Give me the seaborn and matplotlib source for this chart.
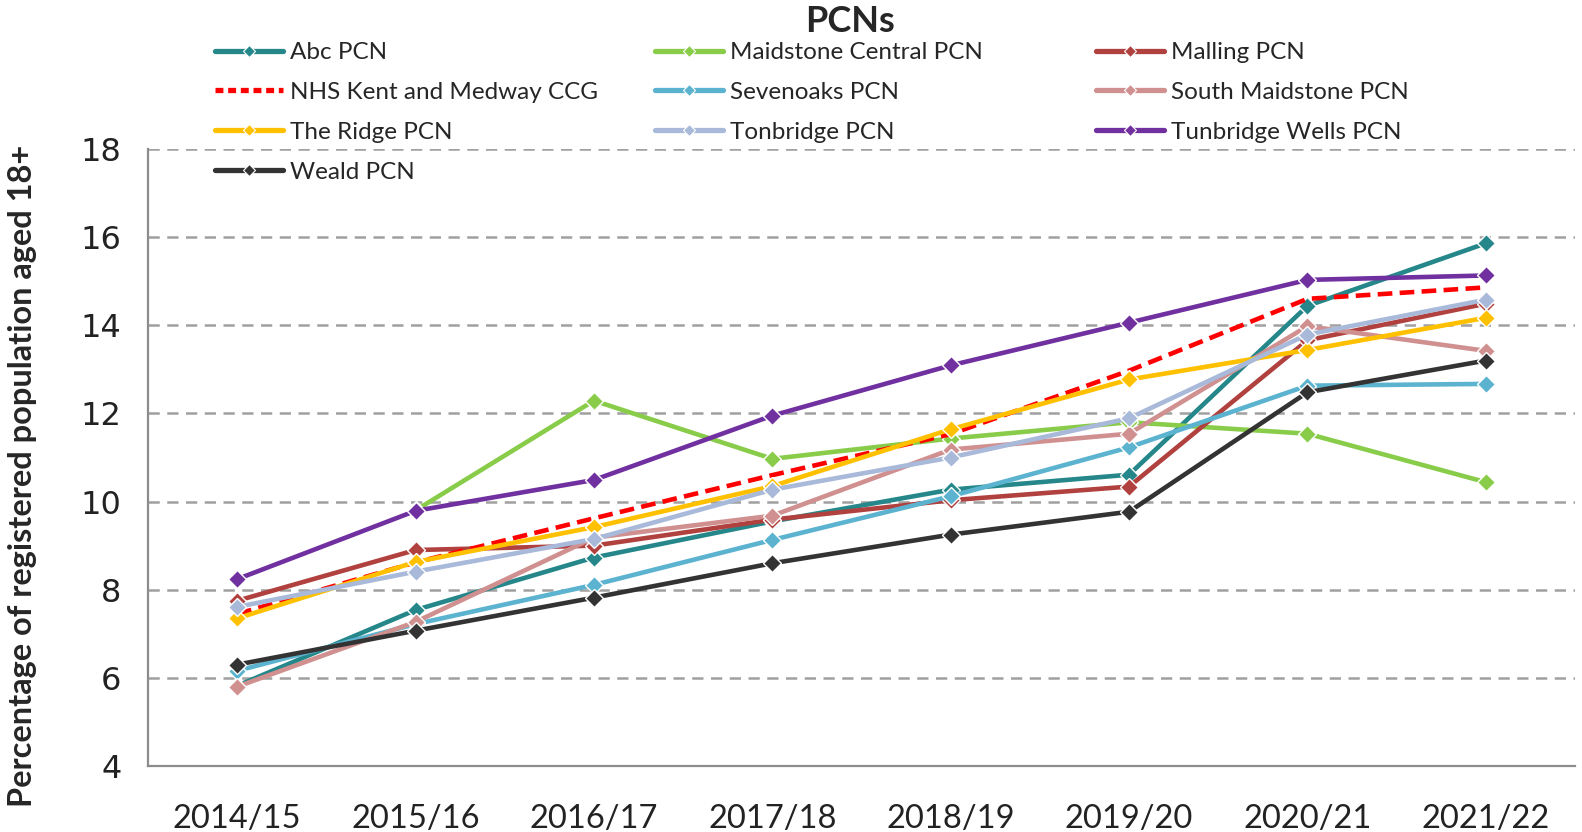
import numpy as np
import pandas as pd
import matplotlib
matplotlib.use("Agg")
import matplotlib.pyplot as plt
from matplotlib.lines import Line2D
import seaborn as sns

years = ["2014/15", "2015/16", "2016/17", "2017/18", "2018/19",
         "2019/20", "2020/21", "2021/22"]

abc_pcn = [5.82, 7.54, 8.73, 9.55, 10.27, 10.61, 14.44, 15.86]
maidstone_central_pcn = [np.nan, 9.80, 12.29, 10.97, 11.43, 11.80, 11.54, 10.44]
malling_pcn = [7.75, 8.90, 9.00, 9.59, 10.03, 10.34, 13.66, 14.49]
nhs_kent_medway_ccg = [7.45, 8.62, 9.62, 10.60, 11.53, 12.97, 14.60, 14.86]
sevenoaks_pcn = [6.16, 7.22, 8.11, 9.13, 10.12, 11.23, 12.63, 12.67]
south_maidstone_pcn = [5.80, 7.27, 9.18, 9.68, 11.18, 11.54, 13.98, 13.42]
the_ridge_pcn = [7.35, 8.63, 9.42, 10.35, 11.64, 12.77, 13.44, 14.17]
tonbridge_pcn = [7.61, 8.41, 9.15, 10.27, 11.00, 11.89, 13.79, 14.58]
tunbridge_wells_pcn = [8.24, 9.79, 10.49, 11.95, 13.09, 14.06, 15.03, 15.13]
weald_pcn = [6.30, 7.07, 7.82, 8.60, 9.25, 9.77, 12.48, 13.20]

series_names = ["Abc PCN", "Maidstone Central PCN", "Malling PCN",
                "NHS Kent and Medway CCG", "Sevenoaks PCN", "South Maidstone PCN",
                "The Ridge PCN", "Tonbridge PCN", "Tunbridge Wells PCN", "Weald PCN"]
series_values = [abc_pcn, maidstone_central_pcn, malling_pcn, nhs_kent_medway_ccg,
                 sevenoaks_pcn, south_maidstone_pcn, the_ridge_pcn, tonbridge_pcn,
                 tunbridge_wells_pcn, weald_pcn]
colors = ["#25878A", "#88CC4A", "#B0413E", "#FF0000", "#5BB3D0", "#D09090",
          "#FFC000", "#A9B9D9", "#7030A0", "#333333"]

sns.set_style("white")
plt.rcParams["font.family"] = ["Lato", "DejaVu Sans"]

fig = plt.figure(figsize=(15.82, 8.32), dpi=100)
ax = fig.add_axes([148 / 1582, 66 / 832, (1575 - 148) / 1582, (766 - 149) / 832])

handles = {}
for name, vals, col in zip(series_names, series_values, colors):
    df = pd.DataFrame({"year": years, "value": vals}).dropna()
    n_before = len(ax.lines)
    is_ccg = name.startswith("NHS")
    sns.lineplot(data=df, x="year", y="value", ax=ax, color=col, sort=False,
                 linewidth=3.3, marker=None if is_ccg else "D",
                 markersize=9.5, markeredgecolor="white", markeredgewidth=1.0,
                 legend=False)
    line = ax.lines[n_before]
    if is_ccg:
        line.set_dashes((3.2, 1.6))
    h = Line2D([0], [0], color=col, lw=3.8,
               marker=None if is_ccg else "D", markersize=6,
               markeredgecolor="white", markeredgewidth=0.8)
    if is_ccg:
        h.set_dashes((1.5, 0.9))
    handles[name] = h

ax.set_ylim(4, 18)
ax.set_yticks(np.arange(4, 19, 2))
ax.set_xlim(-0.5, 7.5)
ax.set_xticks(range(len(years)))
ax.set_xticklabels(years)
ax.set_xticks(np.arange(-0.5, 8, 1), minor=True)
ax.tick_params(axis="x", which="major", length=0, pad=27, labelsize=23.5)
ax.tick_params(axis="x", which="minor", length=11, width=1.6, color="#8C8C8C",
               direction="out")
ax.tick_params(axis="y", which="major", length=14, width=1.6, color="#8C8C8C",
               direction="inout", pad=12, labelsize=23)
for lab in ax.get_yticklabels():
    lab.set_fontfamily("DejaVu Sans")
    lab.set_color("#222222")
for lab in ax.get_xticklabels():
    lab.set_color("#222222")

for y in np.arange(6, 19, 2):
    ax.axhline(y, color="#A0A0A0", lw=1.8, dashes=(4.5, 3), zorder=0.5)

for s in ["top", "right"]:
    ax.spines[s].set_visible(False)
for s in ["left", "bottom"]:
    ax.spines[s].set_color("#8C8C8C")
    ax.spines[s].set_linewidth(1.6)

ax.set_xlabel("")
ax.set_ylabel("Percentage of registered population aged 18+", fontsize=23.4,
              fontweight="bold")
ax.yaxis.set_label_coords(-0.078, 0.47)

fig.text(850 / 1582, 1 - 21 / 832, "PCNs", ha="center", va="center",
         fontsize=26, fontweight="bold")

col_groups = [["Abc PCN", "NHS Kent and Medway CCG", "The Ridge PCN", "Weald PCN"],
              ["Maidstone Central PCN", "Sevenoaks PCN", "Tonbridge PCN"],
              ["Malling PCN", "South Maidstone PCN", "Tunbridge Wells PCN"]]
col_x = [215, 655, 1096]
for xs, grp in zip(col_x, col_groups):
    fig.legend([handles[n] for n in grp], grp, loc="upper left",
               bbox_to_anchor=(xs / 1582, 1 - 42 / 832),
               frameon=False, fontsize=17.5, handlelength=2.8,
               handletextpad=0.3, labelspacing=0.78, borderaxespad=0,
               borderpad=0)

fig.savefig("out.png", dpi=100)
